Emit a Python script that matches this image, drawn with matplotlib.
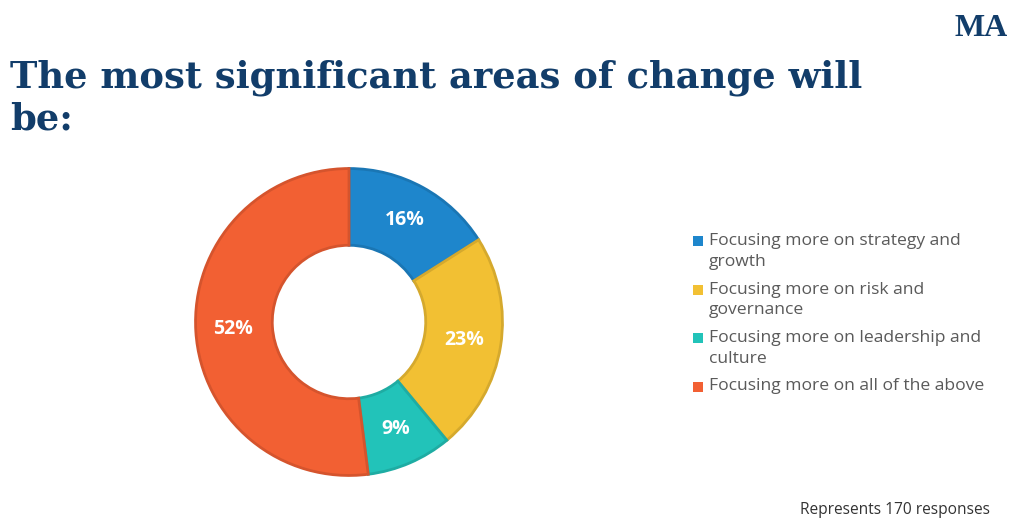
import numpy as np
import matplotlib.pyplot as plt
from matplotlib.colors import to_rgb
from matplotlib.patches import Rectangle

title_lines = ["The most significant areas of change will", "be:"]
labels = ["Focusing more on strategy and\ngrowth",
          "Focusing more on risk and\ngovernance",
          "Focusing more on leadership and\nculture",
          "Focusing more on all of the above"]
values = [16, 23, 9, 52]
colors = ["#1e86cc", "#f2c033", "#22c3b9", "#f26033"]
note = "Represents 170 responses"

navy = "#123d6a"
W, H = 1024, 520

def darker(c, f=0.88):
    r, g, b = to_rgb(c)
    return (r * f, g * f, b * f)

fig = plt.figure(figsize=(10.24, 5.2), dpi=100)

for i, line in enumerate(title_lines):
    fig.text(10 / W, 1 - (87 + 43 * i) / H, line,
             fontsize=26.6, fontweight="bold", family="DejaVu Serif", color=navy,
             va="baseline", ha="left")

# logo
fig.text(981 / W, 1 - 29 / H, "MA", fontsize=23, fontweight="bold",
         family="Liberation Serif", color=navy, ha="center", va="center")

ax = fig.add_axes([194 / W, 43 / H, 310 / W, 310 / H])
wedges, _ = ax.pie(values, colors=colors, startangle=90, counterclock=False,
                   radius=1, wedgeprops=dict(width=0.5, linewidth=2))
for w, c in zip(wedges, colors):
    w.set_edgecolor(darker(c))

total = sum(values)
start = 90
for v in values:
    ang = np.deg2rad(start - v / total * 360 / 2)
    start -= v / total * 360
    ax.text(0.76 * np.cos(ang), 0.76 * np.sin(ang), f"{v}%", color="white",
            fontsize=14, fontweight="bold", family="Open Sans", ha="center", va="center")
ax.set_xlim(-1.01, 1.01)
ax.set_ylim(-1.01, 1.01)
ax.set_aspect("equal")

# legend, square lined up with the first line of each entry
y = 241
for lab, c in zip(labels, colors):
    fig.patches.append(Rectangle((693 / W, 1 - (y + 5) / H), 10 / W, 10 / H,
                                 transform=fig.transFigure, facecolor=c, linewidth=0))
    for k, part in enumerate(lab.split("\n")):
        fig.text(709 / W, 1 - (y + 21 * k) / H, part, fontsize=12.6, family="Open Sans",
                 color="#5a5a5a", ha="left", va="center")
    y += 21 * len(lab.split("\n")) + 6.5

fig.text(990 / W, 1 - 514 / H, note, fontsize=11.2,
         family="Open Sans", color="#333333", ha="right", va="baseline")

fig.savefig("out.png", dpi=100)
